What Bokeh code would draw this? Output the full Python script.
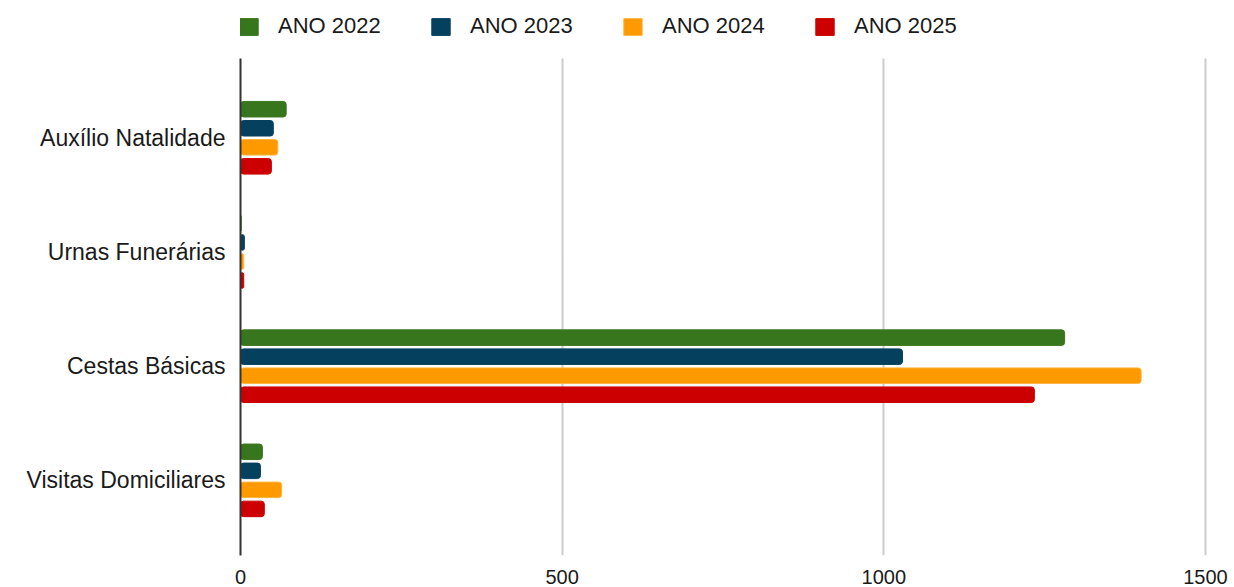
from bokeh.plotting import figure
from bokeh.models import ColumnDataSource, Range1d, FixedTicker, Legend, LegendItem
from bokeh.transform import dodge
from bokeh.embed import file_html
from bokeh.resources import INLINE

categories = ["Auxílio Natalidade", "Urnas Funerárias", "Cestas Básicas", "Visitas Domiciliares"]
years = ["ANO 2022", "ANO 2023", "ANO 2024", "ANO 2025"]
v2022 = [71, 1, 1281, 34]
v2023 = [51, 6, 1029, 31]
v2024 = [58, 5, 1400, 64]
v2025 = [48, 5, 1234, 37]
x_ticks = [0, 500, 1000, 1500]

colors = ["#38761d", "#06405f", "#ff9900", "#cc0000"]
outlines = ["#38761d", "#06405f", "#ffb640", "#cc0000"]
offsets = [0.25, 0.0833, -0.0833, -0.25]

ypos = list(range(len(categories), 0, -1))  # top category highest
source = ColumnDataSource(data=dict(cat=categories, ypos=ypos,
                                    y2022=v2022, y2023=v2023, y2024=v2024, y2025=v2025))

Y_START, Y_END = 0.342, 5.202          # frame spans the whole height (legend sits inside)
PLOT_TOP = 4.69                        # top of gridlines / axis line

p = figure(width=1232, height=586,
           y_range=Range1d(Y_START, Y_END),
           x_range=Range1d(0, 1514),
           output_backend="svg", toolbar_location=None,
           min_border_left=240, min_border_right=18, min_border_top=0, min_border_bottom=0)

p.outline_line_color = None
p.background_fill_color = "white"

renderers = []
for i, key in enumerate(["y2022", "y2023", "y2024", "y2025"]):
    r = p.hbar(y=dodge("ypos", offsets[i]), right=key, left=0, height=0.136,
               source=source, fill_color=colors[i], line_color=outlines[i], line_width=1,
               border_radius=3)
    renderers.append(r)

# y axis
p.yaxis.ticker = FixedTicker(ticks=ypos)
p.yaxis.major_label_overrides = {y: c for y, c in zip(ypos, categories)}
p.yaxis.bounds = (Y_START, PLOT_TOP)
p.yaxis.axis_line_color = "#333333"
p.yaxis.axis_line_width = 2
p.yaxis.major_tick_line_color = None
p.yaxis.minor_tick_line_color = None
p.yaxis.major_label_standoff = 9
p.yaxis.major_label_text_font = "Liberation Sans"
p.yaxis.major_label_text_font_size = "23px"
p.yaxis.major_label_text_color = "#1a1a1a"

# x axis
p.xaxis.axis_line_color = None
p.xaxis.major_tick_line_color = None
p.xaxis.minor_tick_line_color = None
p.xaxis.ticker = FixedTicker(ticks=x_ticks)
p.xaxis.major_label_standoff = 8
p.xaxis.major_label_text_font = "Liberation Sans"
p.xaxis.major_label_text_font_size = "20px"
p.xaxis.major_label_text_color = "#1a1a1a"

xg = p.xgrid[0]
xg.ticker = FixedTicker(ticks=x_ticks[1:])
xg.grid_line_color = "#cccccc"
xg.grid_line_width = 2
if "cross_bounds" in xg.properties():
    xg.cross_bounds = (Y_START, PLOT_TOP)
p.ygrid.grid_line_color = None

legend = Legend(items=[LegendItem(label=years[i], renderers=[renderers[i]]) for i in range(4)],
                orientation="horizontal", location=(-3, 516),
                glyph_width=23, glyph_height=21, label_height=21, label_width=115,
                label_standoff=18, spacing=36, padding=0, margin=0,
                border_line_color=None, background_fill_alpha=0,
                label_text_font="Liberation Sans", label_text_font_size="22px",
                label_text_color="#1a1a1a")
p.add_layout(legend, "center")

open("out.html", "w").write(file_html(p, INLINE))
